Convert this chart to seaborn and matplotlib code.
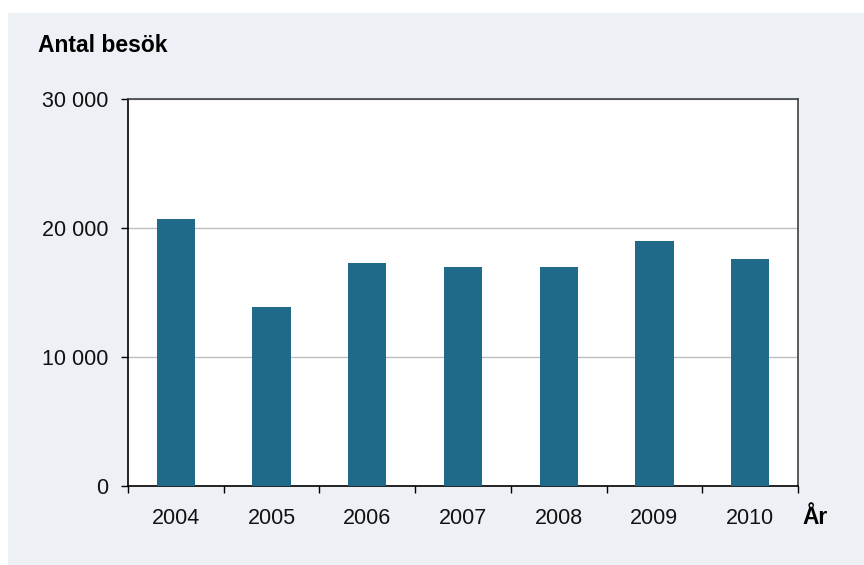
import matplotlib
matplotlib.use("Agg")
import matplotlib.pyplot as plt
from matplotlib.patches import Rectangle
from matplotlib.ticker import FuncFormatter, FixedLocator
import seaborn as sns
import pandas as pd

years = ["2004", "2005", "2006", "2007", "2008", "2009", "2010"]
visits = [20700, 13900, 17300, 17000, 17000, 19000, 17600]

sns.set_theme(style="white")
plt.rcParams["font.family"] = ["Liberation Sans", "DejaVu Sans"]

df = pd.DataFrame({"year": years, "visits": visits})

W, H = 864, 565
fig = plt.figure(figsize=(W / 100, H / 100), dpi=100, facecolor="white")
# light panel behind the chart
fig.patches.append(Rectangle((8 / W, 0), 1 - 8 / W, 1 - 13 / H,
                             transform=fig.transFigure, facecolor="#edf0f5",
                             edgecolor="none", zorder=-10))

ax = fig.add_axes([128 / W, 1 - 486 / H, (798 - 128) / W, (486 - 99) / H])
ax.set_facecolor("white")
sns.barplot(data=df, x="year", y="visits", color="#206a89", width=0.4,
            saturation=1, linewidth=0, edgecolor="none", ax=ax, zorder=3)

ax.set_ylim(0, 30000)
ax.set_xlim(-0.5, len(years) - 0.5)
ax.set_yticks([0, 10000, 20000, 30000])
ax.yaxis.set_major_formatter(FuncFormatter(lambda v, p: f"{int(v):,}".replace(",", " ")))
ax.yaxis.grid(True, color="#bebebe", linewidth=1)
ax.set_axisbelow(True)

ax.tick_params(axis="y", which="major", direction="out", length=5, width=1,
               color="black", labelsize=15.5, pad=9, left=True)
ax.xaxis.set_minor_locator(FixedLocator([i - 0.5 for i in range(len(years) + 1)]))
ax.tick_params(axis="x", which="minor", direction="out", length=5, width=1,
               color="black", bottom=True)
ax.tick_params(axis="x", which="major", length=0, labelsize=15.5, pad=16)
for lab in ax.get_xticklabels() + ax.get_yticklabels():
    lab.set_color("#111111")

for side in ["left", "bottom"]:
    ax.spines[side].set_color("black")
    ax.spines[side].set_linewidth(1.2)
for side in ["top", "right"]:
    ax.spines[side].set_visible(True)
    ax.spines[side].set_color("#404040")
    ax.spines[side].set_linewidth(1.2)

ax.set_xlabel("")
ax.set_ylabel("")
fig.text(38 / W, 1 - 45 / H, "Antal besök", fontsize=16.5, fontweight="bold",
         ha="left", va="center", color="black")
fig.text(802 / W, 1 - 518 / H, "År", fontsize=16.5, fontweight="bold",
         ha="left", va="center", color="black")

fig.savefig("out.png", dpi=100, facecolor="white")
